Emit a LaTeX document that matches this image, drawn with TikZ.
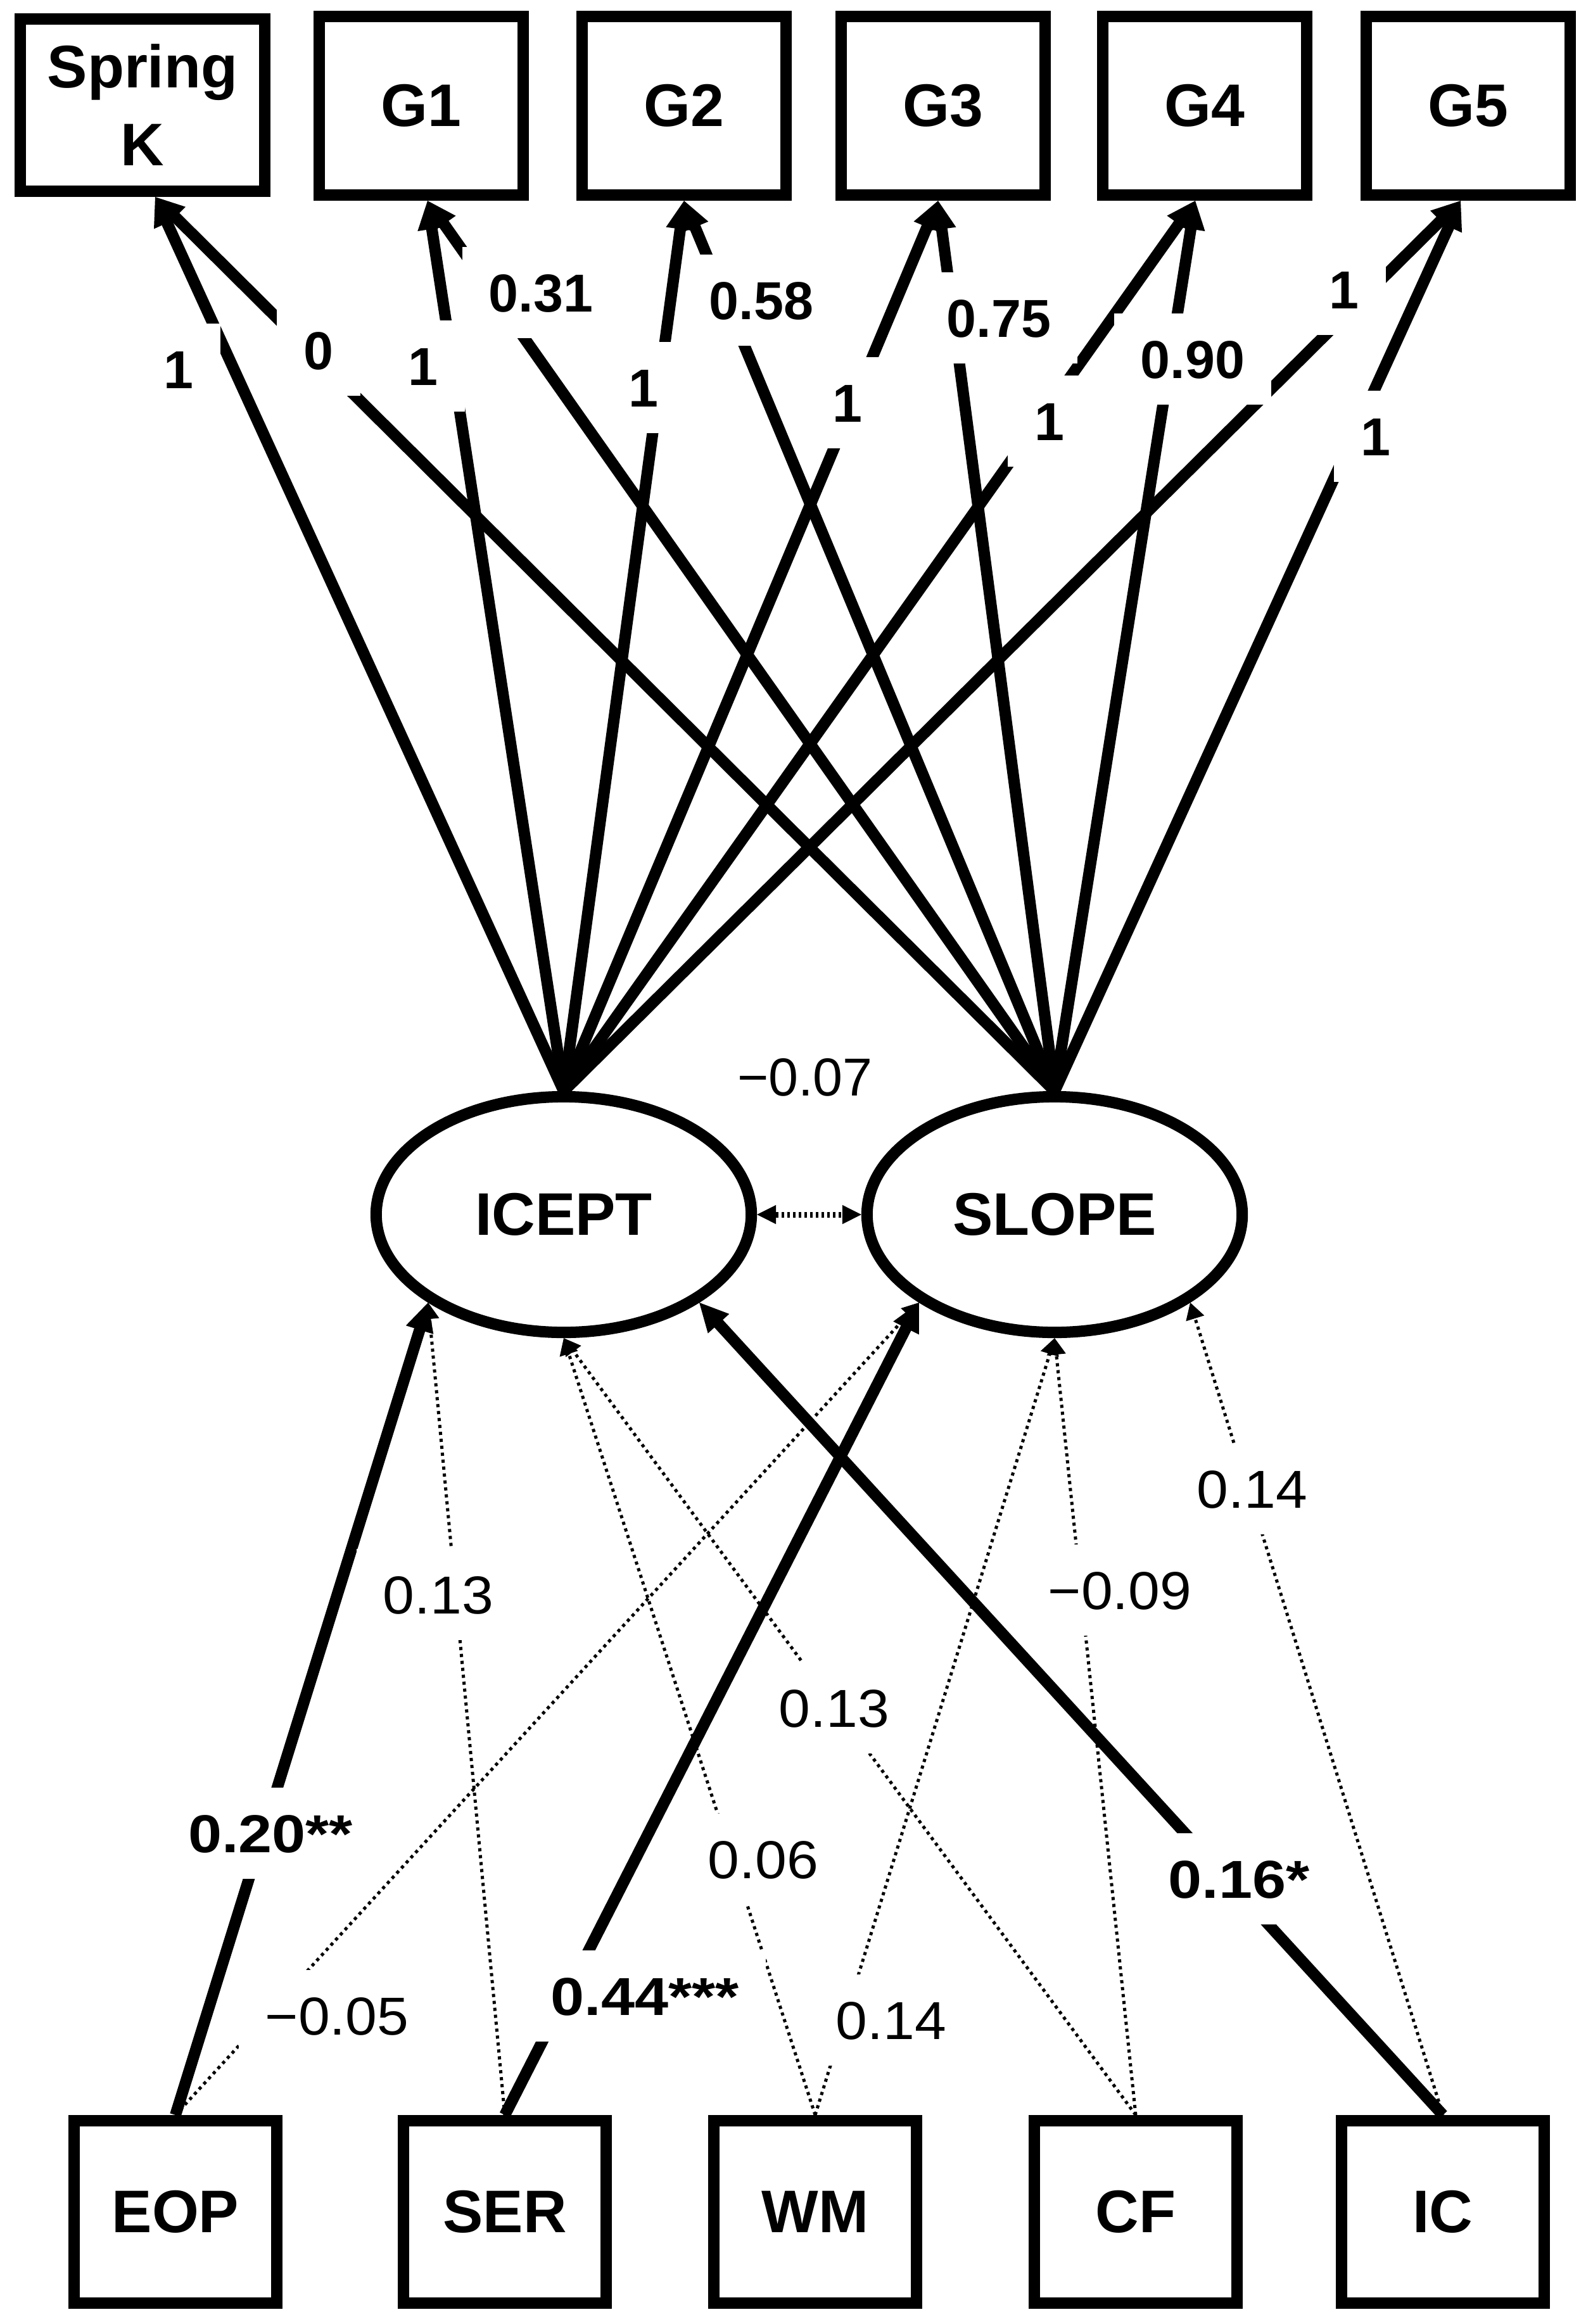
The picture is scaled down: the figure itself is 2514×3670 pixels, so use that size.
\documentclass[tikz,border=0pt]{standalone}
\usepackage{fontspec}
\setmainfont{Liberation Sans}
\newfontfamily\widebold[FakeStretch=1.13]{Liberation Sans Bold}
\newfontfamily\widereg[FakeStretch=1.06]{Liberation Sans}
\usetikzlibrary{arrows.meta,shapes.geometric}
\begin{document}
\begin{tikzpicture}[x=0.01cm,y=-0.01cm,
  obsbox/.style={draw, rectangle, line width=0.18cm, inner sep=0pt,
    minimum width=3.22cm, minimum height=2.82cm, align=center,
    font=\fontsize{27pt}{35pt}\selectfont\bfseries},
  latent/.style={draw, ellipse, line width=0.18cm, inner sep=0pt,
    minimum width=5.92cm, minimum height=3.72cm,
    font=\fontsize{27pt}{35pt}\selectfont\bfseries},
  lbl/.style={fill=white, inner sep=12pt, text height=17.2pt, text depth=0pt,
    font=\fontsize{24pt}{28pt}\selectfont\bfseries},
  lblr/.style={lbl, font=\fontsize{24pt}{28pt}\selectfont},
  lblw/.style={lbl, font=\fontsize{24pt}{28pt}\selectfont\widebold},
  lblwr/.style={lbl, font=\fontsize{24pt}{28pt}\selectfont\widereg},
  load/.style={line width=0.18cm,
    -{Triangle[length=0.45cm,width=0.45cm,line width=0.02cm]}},
  ns/.style={line width=0.05cm, dash pattern=on 0.05cm off 0.06cm,
    -{Triangle[length=0.26cm,width=0.3cm,line width=0.01cm]}},
  cov/.style={line width=0.09cm, dash pattern=on 0.04cm off 0.05cm,
    {Triangle[length=0.3cm,width=0.3cm,line width=0.01cm]}-{Triangle[length=0.3cm,width=0.3cm,line width=0.01cm]}}
]
\fill[white] (0,0) rectangle (2514,3670);
\useasboundingbox (0,0) rectangle (2514,3670);

% observed indicators (top)
\node[obsbox, minimum width=3.86cm, minimum height=2.72cm] (SK) at (225,166) {Spring\\K};
\node[obsbox] (G1) at (665,167) {G1};
\node[obsbox] (G2) at (1080,167) {G2};
\node[obsbox] (G3) at (1489,167) {G3};
\node[obsbox] (G4) at (1902,167) {G4};
\node[obsbox] (G5) at (2318,167) {G5};

% latent factors
\node[latent] (ICEPT) at (890,1918) {ICEPT};
\node[latent] (SLOPE) at (1665,1918) {SLOPE};

% predictors (bottom)
\node[obsbox, minimum width=3.19cm, minimum height=2.88cm] (EOP) at (277,3493) {EOP};
\node[obsbox, minimum width=3.19cm, minimum height=2.88cm] (SER) at (797,3493) {SER};
\node[obsbox, minimum width=3.19cm, minimum height=2.88cm] (WM) at (1287,3493) {WM};
\node[obsbox, minimum width=3.19cm, minimum height=2.88cm] (CF) at (1793,3493) {CF};
\node[obsbox, minimum width=3.19cm, minimum height=2.88cm] (IC) at (2278,3493) {IC};

% loadings
\draw[load] (ICEPT.north) -- ([xshift=0.2cm]SK.south);
\draw[load] (SLOPE.north) -- ([xshift=0.2cm]SK.south);
\draw[load] (ICEPT.north) -- ([xshift=0.1cm]G1.south);
\draw[load] (SLOPE.north) -- ([xshift=0.1cm]G1.south);
\draw[load] (ICEPT.north) -- (G2.south);
\draw[load] (SLOPE.north) -- (G2.south);
\draw[load] (ICEPT.north) -- ([xshift=-0.08cm]G3.south);
\draw[load] (SLOPE.north) -- ([xshift=-0.08cm]G3.south);
\draw[load] (ICEPT.north) -- ([xshift=-0.15cm]G4.south);
\draw[load] (SLOPE.north) -- ([xshift=-0.15cm]G4.south);
\draw[load] (ICEPT.north) -- ([xshift=-0.12cm]G5.south);
\draw[load] (SLOPE.north) -- ([xshift=-0.12cm]G5.south);

% loading labels
\node[lbl] (lsk1) at (282,583) {1};
\node[lbl] (lg11) at (668,578) {1};
\node[lbl] (lg21) at (1016,612) {1};
\node[lbl] (lg31) at (1338,636) {1};
\node[lbl] (lg41) at (1657,665) {1};
\node[lbl] (lg51) at (2122,457) {1};
\node[lbl] (lsk0) at (503,553) {0};
\node[lbl] (lg1s) at (854,462) {0.31};
\node[lbl] (lg2s) at (1202,474) {0.58};
\node[lbl] (lg3s) at (1577,502) {0.75};
\node[lbl] (lg4s) at (1883,567) {0.90};
\node[lbl] (lg5s) at (2172,689) {1};

% covariance
\draw[cov] (ICEPT.east) -- (SLOPE.west);
\node[lblr] (lcov) at (1271,1700) {−0.07};

% regressions
\draw[ns] (EOP.north) -- (SLOPE.213);
\draw[ns] (SER.north) -- (ICEPT.213);
\draw[ns] (WM.north) -- (ICEPT.south);
\draw[ns] (WM.north) -- (SLOPE.south);
\draw[ns] (CF.north) -- (ICEPT.south);
\draw[ns] (CF.north) -- (SLOPE.south);
\draw[ns] (IC.north) -- (SLOPE.327);
\draw[load] (EOP.north) -- (ICEPT.213);
\draw[load] (SER.north) -- (SLOPE.213);
\draw[load] (IC.north) -- (ICEPT.327);

% regression labels
\node[lblw]  (leopi) at (427,2895) {0.20**};
\node[lblwr] (leops) at (532,3183) {−0.05};
\node[lblwr] (lseri) at (692,2518) {0.13};
\node[lblw]  (lsers) at (1018,3152) {0.44***};
\node[lblwr] (lwmi)  at (1205,2936) {0.06};
\node[lblwr] (lcfi)  at (1317,2697) {0.13};
\node[lblwr] (lwms)  at (1407,3190) {0.14};
\node[lblwr] (lcfs)  at (1768,2511) {−0.09};
\node[lblwr] (lics)  at (1977,2351) {0.14};
\node[lblw]  (lici)  at (1956,2967) {0.16*};
\end{tikzpicture}
\end{document}
